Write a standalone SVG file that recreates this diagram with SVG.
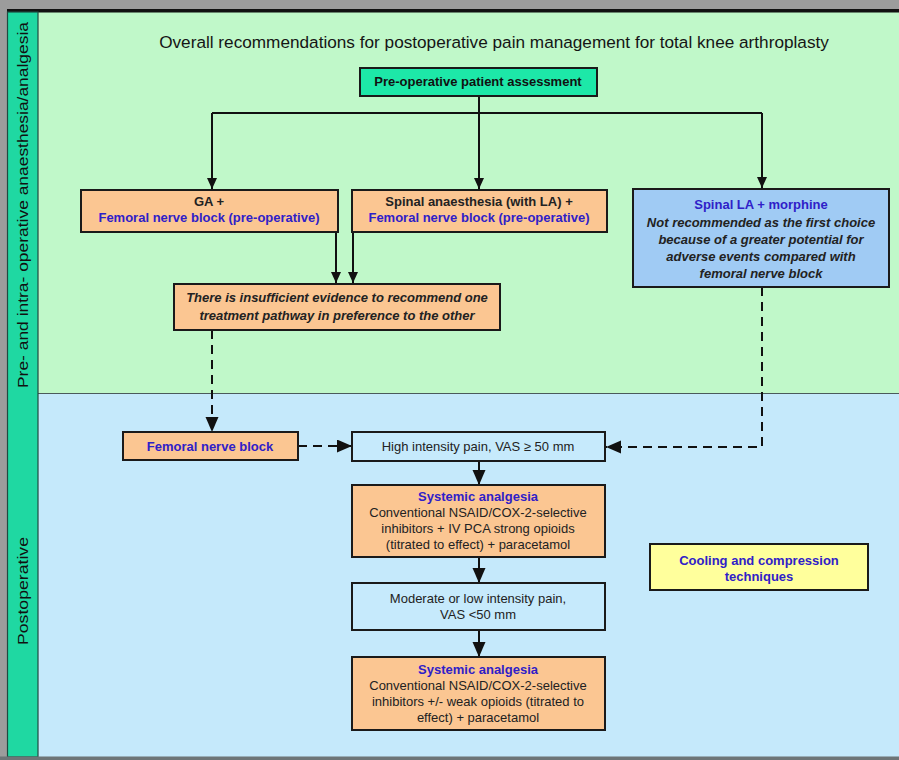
<svg xmlns="http://www.w3.org/2000/svg" width="899" height="760" viewBox="0 0 899 760">
<defs>
<style>
.t{font-family:"Liberation Sans",Arial,sans-serif;font-size:13px;fill:#222;text-anchor:middle}
.b{font-weight:bold}
.i{font-style:italic;font-weight:bold}
.bl{fill:#2f20c8;font-weight:bold}
.box{stroke:#1a1a1a;stroke-width:2}
.peach{fill:#fbc692}
.plain{fill:#c6eafc}
.con{fill:none;stroke:#111;stroke-width:2}
.dash{stroke-dasharray:9 6}
</style>
<marker id="ah" markerUnits="userSpaceOnUse" markerWidth="12" markerHeight="12" refX="11" refY="5" orient="auto">
<path d="M0,0 L11,5 L0,10 z" fill="#111"/>
</marker>
<marker id="ahd" markerUnits="userSpaceOnUse" markerWidth="16" markerHeight="14" refX="15" refY="6.5" orient="auto">
<path d="M0,0 L15,6.5 L0,13 z" fill="#111"/>
</marker>
</defs>
<rect x="0" y="0" width="899" height="760" fill="#9c9c9c"/>
<rect x="7" y="12" width="892" height="381" fill="#c0f8c9"/>
<rect x="7" y="393" width="892" height="364" fill="#c5e9fb"/>
<line x1="38" y1="393.5" x2="899" y2="393.5" stroke="#4a5a5a" stroke-width="1.2"/>
<rect x="7" y="9" width="892" height="3.5" fill="#111"/>
<rect x="7.5" y="12" width="30.5" height="745" fill="#1fd8a2" stroke="#1f4a40" stroke-width="1.2"/>
<rect x="0" y="756.5" width="899" height="3.5" fill="#6d7577"/>
<g id="sidebar">
<text class="t" transform="translate(28,205) rotate(-90)" style="font-size:15px;fill:#111" textLength="366" lengthAdjust="spacingAndGlyphs">Pre- and intra- operative anaesthesia/analgesia</text>
<text class="t" transform="translate(28,591) rotate(-90)" style="font-size:15px;fill:#111" textLength="108" lengthAdjust="spacingAndGlyphs">Postoperative</text>
</g>
<text class="t" x="494" y="48" style="font-size:17.2px;fill:#151515">Overall recommendations for postoperative pain management for total knee arthroplasty</text>
<g id="connectors">
<path class="con" d="M479,96 V113 M212,113 H762"/>
<path class="con" d="M212,113 V189" marker-end="url(#ah)"/>
<path class="con" d="M479,113 V189" marker-end="url(#ah)"/>
<path class="con" d="M762,113 V188" marker-end="url(#ah)"/>
<path class="con" d="M336,232 V283" marker-end="url(#ah)"/>
<path class="con" d="M353,232 V283" marker-end="url(#ah)"/>
<path class="con dash" d="M212,330 V432" marker-end="url(#ahd)"/>
<path class="con dash" d="M298,446 H352" marker-end="url(#ahd)"/>
<path class="con dash" d="M762,287 V447 H606" marker-end="url(#ahd)"/>
<path class="con" d="M479,461 V485" marker-end="url(#ahd)"/>
<path class="con" d="M479,557 V583" marker-end="url(#ahd)"/>
<path class="con" d="M479,630 V657" marker-end="url(#ahd)"/>
</g>
<g id="preop">
<rect class="box" x="360" y="68" width="237" height="28" fill="#1de8a8"/>
<text class="t b" x="478" y="86" style="fill:#111">Pre-operative patient assessment</text>
</g>
<g id="ga">
<rect class="box peach" x="81" y="190" width="257" height="42"/>
<text class="t b" x="209" y="206">GA +</text>
<text class="t bl" x="209" y="222">Femoral nerve block (pre-operative)</text>
</g>
<g id="spinal">
<rect class="box peach" x="352" y="190" width="255" height="42"/>
<text class="t b" x="479" y="206">Spinal anaesthesia (with LA) +</text>
<text class="t bl" x="479" y="222">Femoral nerve block (pre-operative)</text>
</g>
<g id="spinalmorph">
<rect class="box" x="633" y="189" width="256" height="98" fill="#a0cbf4"/>
<text class="t bl" x="761" y="209">Spinal LA + morphine</text>
<text class="t i" x="761" y="227">Not recommended as the first choice</text>
<text class="t i" x="761" y="244">because of a greater potential for</text>
<text class="t i" x="761" y="261">adverse events compared with</text>
<text class="t i" x="761" y="278">femoral nerve block</text>
</g>
<g id="insufficient">
<rect class="box peach" x="174" y="284" width="326" height="46"/>
<text class="t i" x="337" y="302">There is insufficient evidence to recommend one</text>
<text class="t i" x="337" y="320">treatment pathway in preference to the other</text>
</g>
<g id="femoral">
<rect class="box peach" x="123" y="432" width="175" height="28"/>
<text class="t bl" x="210" y="451">Femoral nerve block</text>
</g>
<g id="high">
<rect class="box plain" x="352" y="432" width="253" height="29"/>
<text class="t" x="478" y="451">High intensity pain, VAS ≥ 50 mm</text>
</g>
<g id="systemic1">
<rect class="box peach" x="352" y="485" width="253" height="72"/>
<text class="t bl" x="478" y="501">Systemic analgesia</text>
<text class="t" x="478" y="517">Conventional NSAID/COX-2-selective</text>
<text class="t" x="478" y="533">inhibitors + IV PCA strong opioids</text>
<text class="t" x="478" y="549">(titrated to effect) + paracetamol</text>
</g>
<g id="moderate">
<rect class="box plain" x="352" y="583" width="253" height="47"/>
<text class="t" x="478" y="603">Moderate or low intensity pain,</text>
<text class="t" x="478" y="619">VAS &lt;50 mm</text>
</g>
<g id="systemic2">
<rect class="box peach" x="352" y="657" width="253" height="73"/>
<text class="t bl" x="478" y="674">Systemic analgesia</text>
<text class="t" x="478" y="690">Conventional NSAID/COX-2-selective</text>
<text class="t" x="478" y="706">inhibitors +/- weak opioids (titrated to</text>
<text class="t" x="478" y="722">effect) + paracetamol</text>
</g>
<g id="cooling">
<rect class="box" x="650" y="544" width="218" height="46" fill="#ffff9c"/>
<text class="t bl" x="759" y="565">Cooling and compression</text>
<text class="t bl" x="759" y="581">techniques</text>
</g>
</svg>
